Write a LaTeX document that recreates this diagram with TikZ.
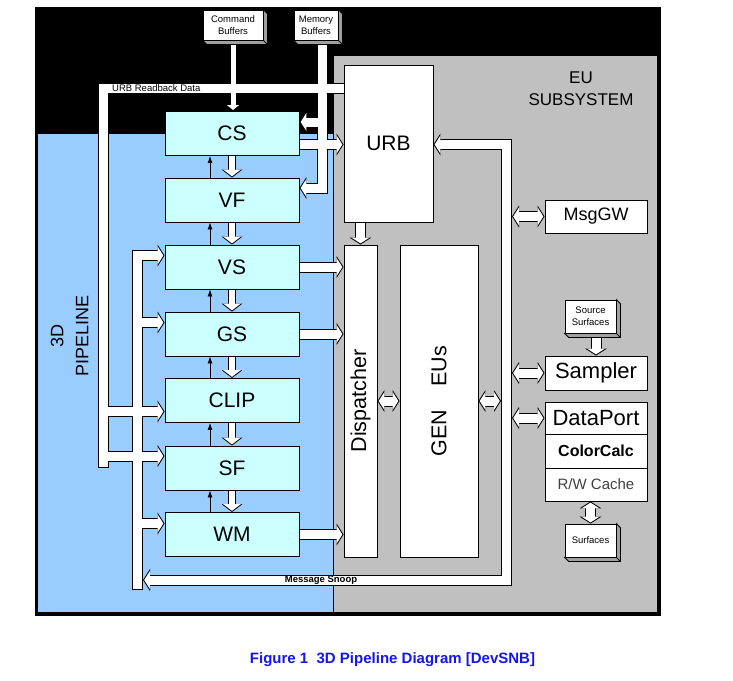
\documentclass[tikz,border=0pt]{standalone}
\usepackage{fontspec}
\setmainfont{Liberation Sans}
\usepackage{graphicx}
\usetikzlibrary{arrows.meta}

\definecolor{pipeblue}{RGB}{153,204,255}
\definecolor{eugray}{RGB}{192,192,192}
\definecolor{stagecyan}{RGB}{204,255,255}
\definecolor{shadegray}{RGB}{160,160,160}
\definecolor{captionblue}{RGB}{20,20,245}

\pgfdeclarelayer{regions}
\pgfdeclarelayer{pipeback}
\pgfdeclarelayer{pipefront}
\pgfsetlayers{regions,pipeback,pipefront,main}

\tikzset{
  stage/.style={draw, line width=0.9pt, fill=stagecyan, minimum width=134pt,
    minimum height=44pt, inner sep=0pt, font=\fontsize{21}{24}\selectfont},
  unit/.style={draw, line width=0.9pt, fill=white, inner sep=0pt, minimum width=102pt},
  buffer/.style={draw, line width=0.8pt, fill=white, inner sep=0pt, align=center,
    font=\fontsize{9.5}{12}\selectfont},
  pipeout/.style={line width=11pt, draw=black,
    >={Triangle[length=7pt,width=22pt,line width=0pt]}},
  pipein/.style={line width=9pt, draw=white, shorten >=1.2pt, shorten <=1.2pt,
    >={Triangle[length=5.8pt,width=18.2pt,line width=0pt]}},
  slimout/.style={line width=8pt, draw=black,
    >={Triangle[length=8pt,width=21pt,line width=0pt]}},
  slimin/.style={line width=6pt, draw=white, shorten >=1.2pt, shorten <=1.2pt,
    >={Triangle[length=6.8pt,width=17.8pt,line width=0pt]}},
  cmdout/.style={line width=7pt, draw=black,
    >={Triangle[length=6pt,width=15pt,line width=0pt]}},
  cmdin/.style={line width=5pt, draw=white, shorten >=1.1pt, shorten <=1.1pt,
    >={Triangle[length=4.9pt,width=12.2pt,line width=0pt]}},
  feedback/.style={line width=0.8pt, -{Latex[length=7pt,width=5pt]}}
}

% white band with black edges; edges go one layer down so crossings merge
\newcommand\busline[3][pipe]{%
  \begin{pgfonlayer}{pipeback}\draw[#1out,#2] #3;\end{pgfonlayer}
  \begin{pgfonlayer}{pipefront}\draw[#1in,#2] #3;\end{pgfonlayer}}

% 3D look of the memory boxes
\newcommand\blockshade[1]{%
  \filldraw[fill=shadegray, line width=0.8pt] (#1.north east) -- ++(4,4)
    -- ([shift={(4,4)}]#1.south east) -- ([shift={(4,4)}]#1.south west)
    -- (#1.south west) -- (#1.south east) -- cycle;
  \draw[line width=0.8pt] (#1.south east) -- ++(4,4);}

\begin{document}
\begin{tikzpicture}[x=1pt, y=-1pt]
\useasboundingbox (0,0) rectangle (733,680);
\begin{pgfonlayer}{regions}
\fill[black] (35,7) rectangle (661,616);
\filldraw[fill=pipeblue, line width=0.6pt] (37,133) rectangle (333,612);
\filldraw[fill=eugray, line width=0.6pt] (333,55) rectangle (657,612);
\end{pgfonlayer}

% memories
\node[buffer, minimum width=60pt, minimum height=30pt] (cmd) at (233,25) {Command\\Buffers};
\node[buffer, minimum width=44pt, minimum height=30pt] (mem) at (316,25) {Memory\\Buffers};
\node[buffer, minimum width=51pt, minimum height=33pt] (srcsurf) at (590.5,316.5) {Source\\Surfaces};
\node[buffer, minimum width=51pt, minimum height=33pt] (surf) at (590.5,540.5) {Surfaces};
\blockshade{cmd}
\blockshade{mem}
\blockshade{srcsurf}
\blockshade{surf}

% 3D pipeline
\node[stage] (cs) at (232,133.5) {CS};
\node[stage] (vf) at (232,200) {VF};
\node[stage] (vs) at (232,267) {VS};
\node[stage] (gs) at (232,334) {GS};
\node[stage] (clip) at (232,400.5) {CLIP};
\node[stage] (sf) at (232,468) {SF};
\node[stage] (wm) at (232,534.5) {WM};

% EU subsystem
\node[unit, minimum width=89pt, minimum height=157pt, font=\fontsize{21}{24}\selectfont] (urb) at (388.5,143.5) {URB};
\node[unit, minimum width=33pt, minimum height=312pt, font=\fontsize{21.5}{24}\selectfont] (disp) at (360.5,401) {\rotatebox{90}{Dispatcher}};
\node[unit, minimum width=78pt, minimum height=312pt, font=\fontsize{21.5}{24}\selectfont] (eus) at (439,401) {\rotatebox{90}{GEN\hspace{0.8em} EUs}};
\node[unit, minimum height=33pt, font=\fontsize{18}{20}\selectfont] (msggw) at (596,216.5) {MsgGW};
\node[unit, minimum height=34pt, font=\fontsize{22}{24}\selectfont] (sampler) at (596,373) {Sampler};
\node[unit, minimum height=32pt, font=\fontsize{22}{24}\selectfont] (dataport) at (596,418) {DataPort};
\node[unit, minimum height=34pt, font=\bfseries\fontsize{16}{18}\selectfont] (colorcalc) at (596,451) {ColorCalc};
\node[unit, minimum height=33pt, text=black!75, font=\fontsize{15}{17}\selectfont] (rwcache) at (596,484.5) {R/W Cache};

% bends and junctions of the bands
\coordinate (memcs) at (322,122);
\coordinate (memdrop) at (322,188);
\coordinate (csout) at (232,144.5);
\coordinate (rbtop) at (103.5,88.5);
\coordinate (rbclip) at (103.5,411.5);
\coordinate (rbsf) at (103.5,456);
\coordinate (rbfoot) at (103.5,468);
\coordinate (busvs) at (137.5,255.5);
\coordinate (busgs) at (137.5,322.5);
\coordinate (buswm) at (137.5,523.5);
\coordinate (busfoot) at (137.5,590);
\coordinate (eutop) at (506.5,144.5);
\coordinate (eufoot) at (506.5,580);
\coordinate (snoopend) at (143,580);
\coordinate (busleft) at (501,0);
\coordinate (busright) at (512,0);

% feeds from memory
\busline[cmd]{->}{(cmd.center) -- (cmd.center |- cs.north)}
\busline{->}{(mem.center -| memdrop) -- (memdrop) -- (memdrop -| vf.east)}
\busline{->}{(memcs) -- (memcs -| cs.east)}

% readback and snoop buses
\busline{-}{(urb.center |- rbtop) -- (rbtop) -- (rbfoot)}
\busline{->}{(rbclip) -- (rbclip -| clip.west)}
\busline{->}{(rbsf) -- (rbsf -| sf.west)}
\busline{->}{(busfoot) |- (busvs -| vs.west)}
\busline{->}{(busgs) -- (busgs -| gs.west)}
\busline{->}{(buswm) -- (buswm -| wm.west)}
\busline{<->}{(urb.east |- eutop) -- (eutop) -- (eufoot) -- (snoopend)}

% pipeline flow
\busline[slim]{->}{(cs.center) -- (vf.north)}
\busline[slim]{->}{(vf.center) -- (vs.north)}
\busline[slim]{->}{(vs.center) -- (gs.north)}
\busline[slim]{->}{(gs.center) -- (clip.north)}
\busline[slim]{->}{(clip.center) -- (sf.north)}
\busline[slim]{->}{(sf.center) -- (wm.north)}
\draw[feedback] ([xshift=-22pt]vf.north) -- ([xshift=-22pt]cs.south);
\draw[feedback] ([xshift=-22pt]vs.north) -- ([xshift=-22pt]vf.south);
\draw[feedback] ([xshift=-22pt]gs.north) -- ([xshift=-22pt]vs.south);
\draw[feedback] ([xshift=-22pt]clip.north) -- ([xshift=-22pt]gs.south);
\draw[feedback] ([xshift=-22pt]sf.north) -- ([xshift=-22pt]clip.south);
\draw[feedback] ([xshift=-22pt]wm.north) -- ([xshift=-22pt]sf.south);

% into the EU subsystem
\busline{->}{(csout) -- (csout -| urb.west)}
\busline{->}{(urb.center -| disp.north) -- (disp.north)}
\busline{->}{(vs.center) -- (vs.center -| disp.west)}
\busline{->}{(gs.center) -- (gs.center -| disp.west)}
\busline{->}{(wm.center) -- (wm.center -| disp.west)}
\busline{<->}{(disp.east) -- (eus.west)}
\busline{<->}{(eus.east) -- (eus.east -| busleft)}
\busline{<->}{(msggw.west -| busright) -- (msggw.west)}
\busline{<->}{(sampler.west -| busright) -- (sampler.west)}
\busline{<->}{(dataport.west -| busright) -- (dataport.west)}
\busline{->}{(srcsurf.center -| sampler.north) -- (sampler.north)}
\busline{<->}{(surf.north |- rwcache.south) -- (surf.north)}

% labels
\node[font=\fontsize{9.5}{11}\selectfont, anchor=west, inner sep=0pt] (rblabel) at (112,88.5) {URB Readback Data};
\node[font=\bfseries\fontsize{9.5}{11}\selectfont, inner sep=0pt] (snooplabel) at (321,580) {Message Snoop};
\node[font=\fontsize{17}{22}\selectfont, align=center] (eulabel) at (581,89) {EU\\SUBSYSTEM};
\node[font=\fontsize{18}{25}\selectfont, align=center, rotate=90] (pipelabel) at (69.5,336) {3D\\PIPELINE};
\node[font=\bfseries\fontsize{15}{17}\selectfont, text=captionblue] (caption) at (392.5,660) {Figure 1\ \ 3D Pipeline Diagram [DevSNB]};
\end{tikzpicture}
\end{document}
